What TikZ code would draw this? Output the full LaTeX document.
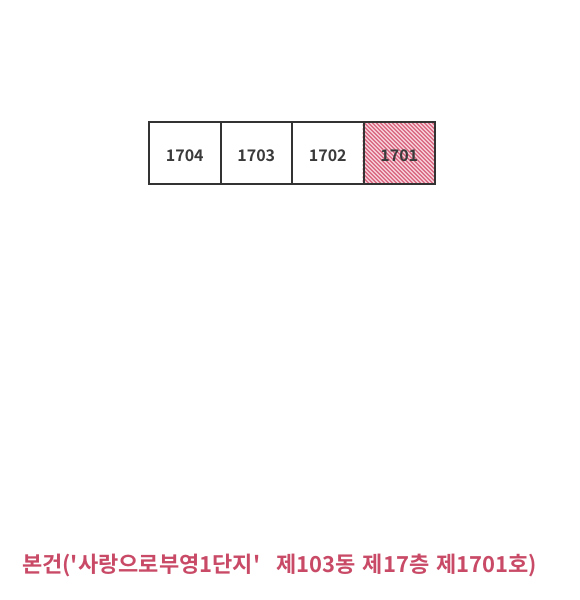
\documentclass[tikz,border=0pt]{standalone}
\usepackage{fontspec}
\setmainfont{Noto Sans CJK KR}
\newfontfamily\krbold{Noto Sans CJK KR Bold}
\definecolor{boxline}{HTML}{333333}
\definecolor{numtext}{HTML}{3A3A3A}
\definecolor{hatchbg}{HTML}{F8D3DB}
\definecolor{hatchln}{HTML}{D8647F}
\definecolor{captext}{HTML}{C94A66}
\begin{document}
\begin{tikzpicture}[x=1pt,y=-1pt,
  unit/.style={draw=boxline,line width=2pt,minimum width=71.5pt,minimum height=62pt,inner sep=0pt,anchor=north west,font=\krbold\fontsize{16}{16}\selectfont,text=numtext,text depth=0pt,text height=16pt},
  caption/.style={font=\krbold\fontsize{22}{22}\selectfont,text=captext,inner sep=0pt}]
\useasboundingbox (0,0) rectangle (579,600);
\fill[white] (0,0) rectangle (579,600);
\begin{scope}
  \clip (362.5,121) rectangle (434,183);
  \fill[hatchbg] (362.5,121) rectangle (434,183);
  \foreach \k in {-80,-76,...,80} {
    \draw[hatchln,line width=1.1pt] (362.5+\k,121) -- ++(70,70);
  }
\end{scope}
\node[unit] (u1704) at (148,121) {1704};
\node[unit] (u1703) at (219.5,121) {1703};
\node[unit] (u1702) at (291,121) {1702};
\node[unit] (u1701) at (362.5,121) {1701};
\node[caption,anchor=west] (cap) at (22,565) {본건('사랑으로부영1단지'\hspace{0.73em}제103동\hspace{0.1em} 제17층\hspace{0.1em} 제1701호)};
\end{tikzpicture}
\end{document}
